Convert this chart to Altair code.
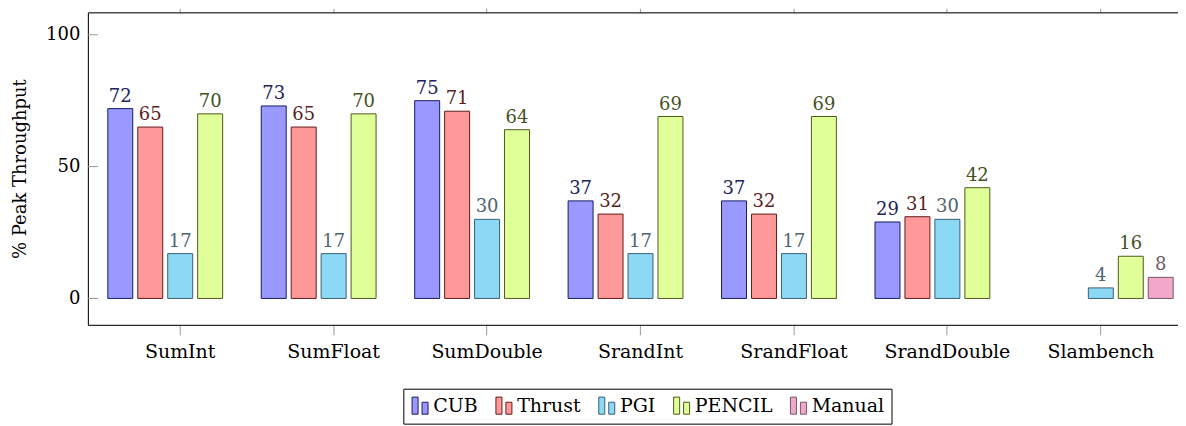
import altair as alt
import pandas as pd

categories = ["SumInt", "SumFloat", "SumDouble", "SrandInt", "SrandFloat", "SrandDouble", "Slambench"]
series = ["CUB", "Thrust", "PGI", "PENCIL", "Manual"]
cub = [72, 73, 75, 37, 37, 29, None]
thrust = [65, 65, 71, 32, 32, 31, None]
pgi = [17, 17, 30, 17, 17, 30, 4]
pencil = [70, 70, 64, 69, 69, 42, 16]
manual = [None, None, None, None, None, None, 8]
y_tick_values = [0, 50, 100]

fills = ["#9999ff", "#ff9999", "#8cd9f5", "#e1ff99", "#f3a8cb"]
strokes = ["#1a1a66", "#661a1a", "#3d5f70", "#4d5a1a", "#705a66"]
text_colors = ["#22225c", "#5a1f1f", "#506470", "#44521f", "#6e5a66"]

rows = []
for s, vals in zip(series, [cub, thrust, pgi, pencil, manual]):
    for c, v in zip(categories, vals):
        if v is not None:
            rows.append({"category": c, "series": s, "value": v})
df = pd.DataFrame(rows)
tick_df = pd.DataFrame({"tick": y_tick_values})

FONT = "DejaVu Serif"

x_scale = alt.Scale(domain=categories, paddingInner=0.0239, paddingOuter=0.0643, align=0.884)
xoff_scale = alt.Scale(domain=series, paddingInner=1 / 6, paddingOuter=1 / 12)
y_scale = alt.Scale(domain=[-10, 108.5], nice=False, zero=False)

y_axis = alt.Axis(values=y_tick_values, grid=False, ticks=False, domain=True, domainColor="#000",
                  labelFont=FONT, labelFontSize=18, labelColor="#000", labelPadding=8,
                  labelFontWeight="normal",
                  titleFont=FONT, titleFontSize=18, titleFontWeight="normal", titleColor="#000",
                  titlePadding=16)
bottom_axis = alt.Axis(orient="bottom", labelAngle=0, grid=False, domainColor="#000", tickColor="#999",
                       tickSize=10, labelFont=FONT, labelFontSize=19, labelColor="#000", labelPadding=8,
                       labelFontWeight="normal", title=None)
top_axis = alt.Axis(orient="top", labels=False, grid=False, domainColor="#000", tickColor="#999",
                    tickSize=4, title=None)

legend_path = ("M-0.86,-0.95 L-0.19,-0.95 L-0.19,0.95 L-0.86,0.95 Z "
               "M0.25,-0.38 L0.92,-0.38 L0.92,0.95 L0.25,0.95 Z")
legend = alt.Legend(orient="none", legendX=316, legendY=377, direction="horizontal", title=None,
                    symbolType=legend_path, symbolSize=324, symbolStrokeWidth=1, symbolOpacity=1,
                    strokeColor="#000", padding=7, labelFont=FONT, labelFontSize=19, labelColor="#000",
                    labelFontWeight="normal", columnPadding=15, labelOffset=4)

bars = alt.Chart(df).mark_bar(strokeWidth=1).encode(
    x=alt.X("category:N", scale=x_scale, sort=categories, axis=bottom_axis),
    xOffset=alt.XOffset("series:N", scale=xoff_scale, sort=series),
    y=alt.Y("value:Q", scale=y_scale, axis=y_axis, title="% Peak Throughput"),
    y2=alt.datum(0),
    fill=alt.Fill("series:N", scale=alt.Scale(domain=series, range=fills), legend=legend, sort=series),
    stroke=alt.Stroke("series:N", scale=alt.Scale(domain=series, range=strokes), legend=legend, sort=series),
)

labels = alt.Chart(df).mark_text(baseline="alphabetic", dy=-7, font=FONT, fontSize=18).encode(
    x=alt.X("category:N", scale=x_scale, sort=categories, axis=top_axis),
    xOffset=alt.XOffset("series:N", scale=xoff_scale, sort=series),
    y=alt.Y("value:Q", scale=y_scale, axis=y_axis, title="% Peak Throughput"),
    text=alt.Text("value:Q", format="d"),
    color=alt.Color("series:N", scale=alt.Scale(domain=series, range=text_colors), legend=None),
)

yticks = alt.Chart(tick_df).mark_rule(color="#999", strokeWidth=1).encode(
    y=alt.Y("tick:Q", scale=y_scale, axis=y_axis, title="% Peak Throughput"),
    x=alt.value(0),
    x2=alt.value(10),
)

chart = alt.layer(bars, labels, yticks).resolve_axis(
    x="independent"
).properties(
    width=1092,
    height=313,
    autosize=alt.AutoSizeParams(type="none"),
    padding={"left": 80, "top": 4, "right": 0, "bottom": 103},
).configure_view(stroke=None).configure(font=FONT, background="#ffffff")

chart.save("out.html", embed_options={"renderer": "svg", "actions": False})
